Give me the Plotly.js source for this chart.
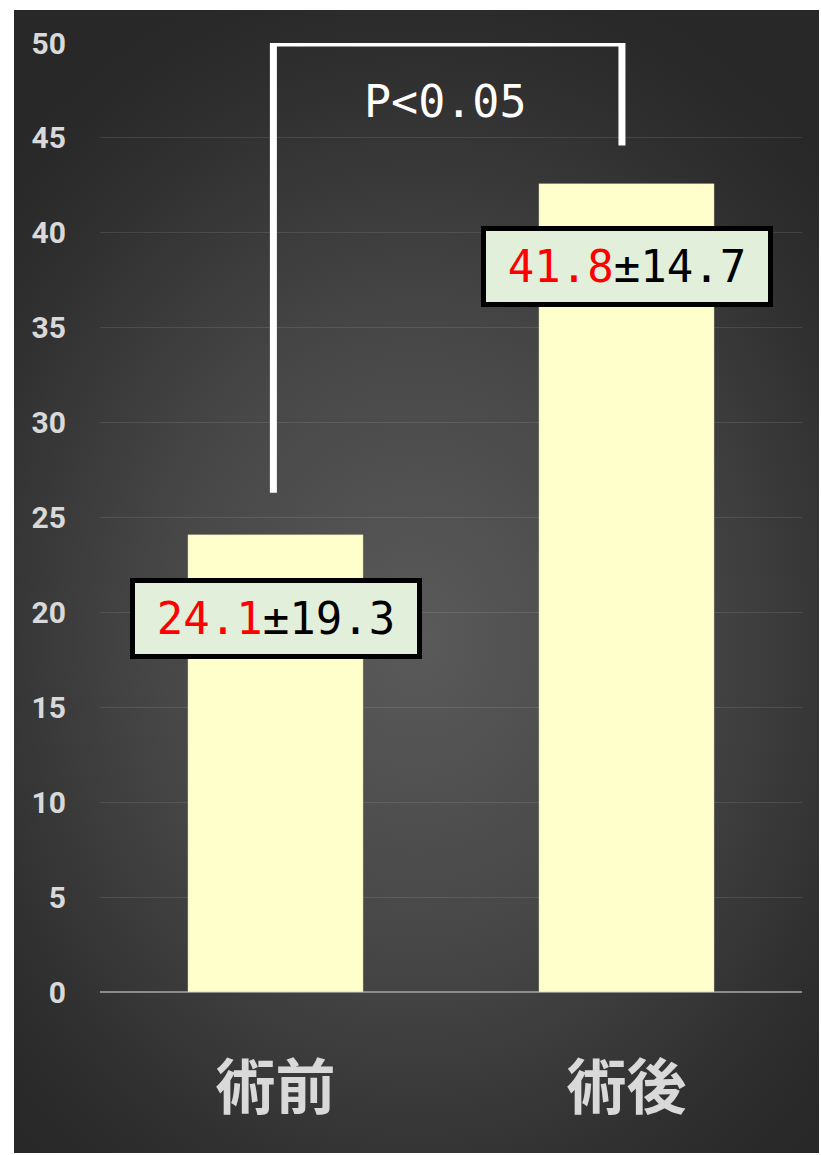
<!DOCTYPE html>
<html>
<head>
<meta charset="utf-8">
<script src="https://cdn.plot.ly/plotly-3.0.1.min.js"></script>
<style>
  html, body { margin: 0; padding: 0; background: #ffffff; }
  #bg { position: absolute; left: 14px; top: 10px; width: 805px; height: 1143px;
        background: radial-gradient(ellipse 70% 60% at 50% 55%, #5a5a5a 0%, #474747 45%, #2e2e2e 85%, #282828 100%); }
  #plot { position: absolute; left: 0; top: 0; width: 821px; height: 1155px; }
</style>
</head>
<body>
<div id="bg"></div>
<div id="plot"></div>
<script>
// Data
const categories = ['術前', '術後'];
const means = [24.1, 42.6];
const meanLabels = ['24.1', '41.8'];
const sdLabels = ['19.3', '14.7'];
const labelY = [19.7, 38.2];
// bracket: positions as category index, values on the y scale
const bracketX = [-0.006, -0.006, 0.987, 0.987];
const bracketY = [26.3, 50, 50, 44.6];
const pText = 'P<0.05';
const pX = 0.485;
const pY = 46.9;
const yTicks = [0, 5, 10, 15, 20, 25, 30, 35, 40, 45, 50];

const traces = [
  {
    type: 'bar',
    x: categories,
    y: means,
    marker: { color: '#ffffcc', line: { color: 'rgba(0,0,0,0.15)', width: 1 } },
    hoverinfo: 'skip'
  }
];

const shapes = [];
for (let i = 0; i < bracketX.length - 1; i++) {
  shapes.push({
    type: 'line', xref: 'x', yref: 'y',
    x0: bracketX[i], y0: bracketY[i], x1: bracketX[i + 1], y1: bracketY[i + 1],
    line: { color: '#ffffff', width: 7 },
    layer: 'above'
  });
}

const boxFont = { family: 'DejaVu Sans Mono, Liberation Mono, monospace', size: 44, color: '#000000' };

const annotations = categories.map((c, i) => ({
  x: c, y: labelY[i], xref: 'x', yref: 'y',
  text: '<span style="color:#ff0000">' + meanLabels[i] + '</span>±' + sdLabels[i],
  showarrow: false,
  font: boxFont,
  bgcolor: '#e2efda',
  bordercolor: '#000000',
  borderwidth: 5,
  borderpad: 0,
  width: 282,
  height: 71,
  xanchor: 'center', yanchor: 'middle'
}));

annotations.push({
  x: pX, y: pY, xref: 'x', yref: 'y',
  text: pText, showarrow: false,
  font: { family: 'DejaVu Sans Mono, Liberation Mono, monospace', size: 45, color: '#ffffff' },
  xanchor: 'center', yanchor: 'middle'
});

const layout = {
  width: 821, height: 1155,
  margin: { l: 100, r: 19, t: 43, b: 163 },
  paper_bgcolor: 'rgba(0,0,0,0)',
  plot_bgcolor: 'rgba(0,0,0,0)',
  showlegend: false,
  bargap: 0.5,
  xaxis: {
    type: 'category',
    showgrid: false, zeroline: false, showline: false,
    ticks: '',
    ticklabelstandoff: 56,
    tickfont: { family: 'Noto Sans CJK JP', size: 60, color: '#d9d9d9', weight: 'bold' }
  },
  yaxis: {
    range: [0, 50],
    tickvals: yTicks,
    ticktext: yTicks.map(String),
    showgrid: true,
    gridcolor: 'rgba(255,255,255,0.1)',
    gridwidth: 1,
    zeroline: true,
    zerolinecolor: '#8c8c8c',
    zerolinewidth: 2,
    showline: false,
    ticks: '',
    ticklabelstandoff: 33,
    tickfont: { family: 'Roboto', size: 30, color: '#d9d9d9', weight: 'bold' }
  },
  shapes: shapes,
  annotations: annotations
};

Plotly.newPlot('plot', traces, layout, { displayModeBar: false, staticPlot: true });
</script>
</body>
</html>
